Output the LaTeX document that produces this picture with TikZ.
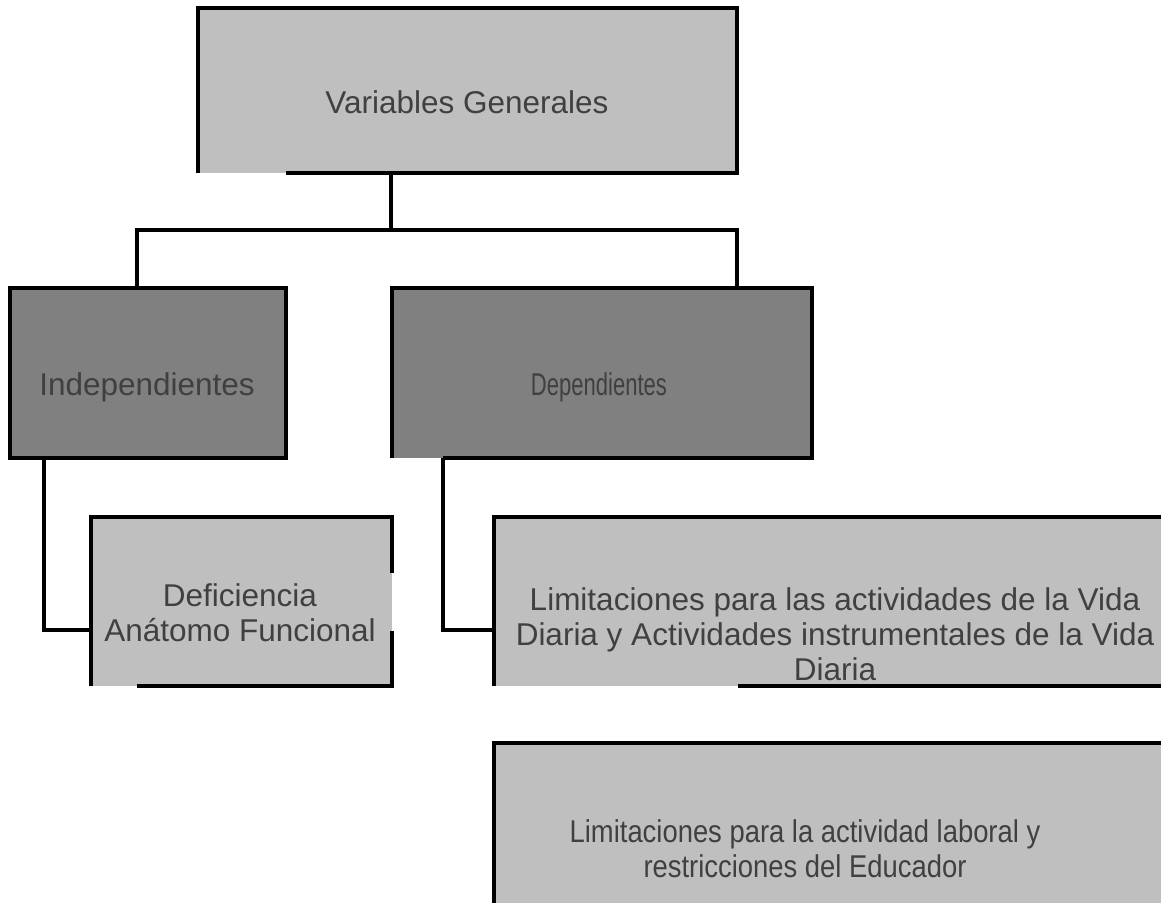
\documentclass[tikz,border=0pt]{standalone}
\usepackage{fontspec}
\setmainfont{Liberation Sans}
\usepackage{graphicx}
\definecolor{lg}{RGB}{191, 191, 191}
\definecolor{dg}{RGB}{128, 128, 128}
\definecolor{tx}{RGB}{64, 64, 64}

\begin{document}
\begin{tikzpicture}[x=1pt, y=-1pt, line width=3.2pt,
  box/.style={rectangle, inner sep=0pt, outer sep=0pt},
  txt/.style={text=tx, font=\fontsize{31.5}{35}\selectfont, align=center, inner sep=0pt}]
\useasboundingbox (0,0) rectangle (1161,903);
% boxes
\node (1) [box, fill=lg, minimum width=539pt, minimum height=165pt] at (467.5, 90.5) {};
\node (2) [box, fill=dg, draw=black, minimum width=276pt, minimum height=170pt] at (148, 373) {};
\node (3) [box, fill=dg, minimum width=420pt, minimum height=170pt] at (602, 373) {};
\node (4) [box, fill=lg, minimum width=301pt, minimum height=169pt] at (241.5, 601.5) {};
\node (5) [box, fill=lg, minimum width=667pt, minimum height=169pt] at (827.5, 601.5) {};
\node (6) [box, fill=lg, minimum width=667pt, minimum height=160pt] at (827.5, 823) {};
% borders
\draw (1.south west) -- (1.north west) -- (1.north east) -- (1.south east) -- (286,0 |- 1.south);
\draw (3.south west) -- (3.north west) -- (3.north east) -- (3.south east) -- (443,0 |- 3.south);
\draw (137,0 |- 4.south) -- (4.south east) -- (4.east |- 0,631);
\draw (4.east |- 0,573) -- (4.north east) -- (4.north west) -- (4.south west);
\draw (5.south west) -- (5.north west) -- (5.north east);
\draw (738,0 |- 5.south) -- (5.south east);
\draw (6.south west) -- (6.north west) -- (6.north east);
% texts
\node (t1) [txt] at (467, 102) {Variables Generales};
\node (t2) [txt] at (147, 387) {Independientes};
\node (t3) [txt] at (599, 387) {\scalebox{0.7}[1]{Dependientes}};
\node (t4) [txt] at (240, 613) {Deficiencia\\An\'atomo Funcional};
\node (t5) [txt] at (835, 634) {Limitaciones para las actividades de la Vida\\Diaria y Actividades instrumentales de la Vida\\Diaria};
\node (t6) [txt] at (805, 849) {\scalebox{0.87}[1]{Limitaciones para la actividad laboral y}\\\scalebox{0.87}[1]{restricciones del Educador}};
% connectors
\coordinate (j) at (391, 230);
\draw (1.south -| j) -- (j);
\draw (2.north -| 137,0) -- (137,230) -- (737,230) -- (3.north -| 737,0);
\draw (2.south -| 44,0) |- (4.west |- 0,630);
\draw (3.south -| 443,0) |- (5.west |- 0,630);
\end{tikzpicture}
\end{document}
